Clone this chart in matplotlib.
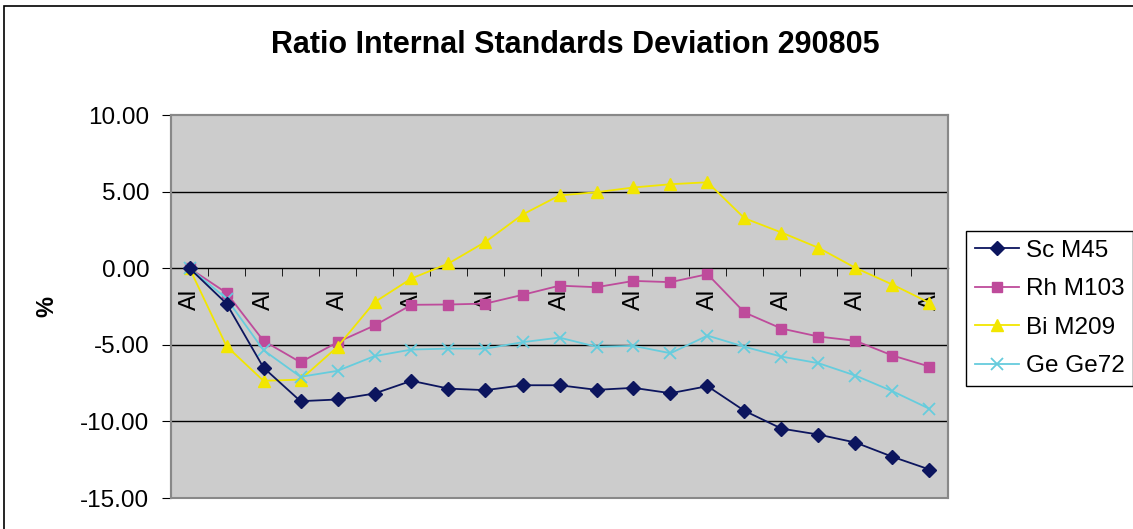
import matplotlib
matplotlib.use("Agg")
import matplotlib.pyplot as plt
from matplotlib.patches import Rectangle

plt.rcParams['font.family'] = ['Liberation Sans', 'DejaVu Sans']

# one "Al" sample per position, 21 runs
categories = ['Al'] * 21
sc_m45 = [0.00, -2.31, -6.49, -8.68, -8.57, -8.18, -7.35, -7.86, -7.96, -7.64, -7.64,
          -7.94, -7.81, -8.16, -7.70, -9.31, -10.47, -10.86, -11.38, -12.31, -13.14]
rh_m103 = [0.00, -1.61, -4.74, -6.14, -4.83, -3.74, -2.39, -2.37, -2.31, -1.74, -1.14,
           -1.24, -0.83, -0.91, -0.39, -2.89, -3.94, -4.46, -4.74, -5.70, -6.42]
bi_m209 = [0.00, -5.09, -7.35, -7.27, -5.13, -2.22, -0.67, 0.31, 1.72, 3.50, 4.75,
           4.96, 5.27, 5.48, 5.61, 3.26, 2.33, 1.33, 0.02, -1.07, -2.26]
ge_ge72 = [0.00, -1.98, -5.35, -7.09, -6.70, -5.74, -5.31, -5.25, -5.25, -4.83, -4.53,
           -5.13, -5.07, -5.55, -4.40, -5.13, -5.77, -6.20, -7.01, -8.03, -9.18]
y_ticks = [10, 5, 0, -5, -10, -15]

W, H = 1133, 529
fig = plt.figure(figsize=(W / 100, H / 100), dpi=100)

# chart frame
fig.patches.append(Rectangle((4 / W, -0.02), 1.05, 1 - 6 / H + 0.02, transform=fig.transFigure,
                             fill=False, edgecolor='black', linewidth=1.2))

ax = fig.add_axes([171 / W, (H - 498) / H, 777 / W, 383 / H])
ax.set_facecolor('#CCCCCC')

x = list(range(len(categories)))
ax.plot(x, sc_m45, color='#0C155E', marker='D', markersize=7, linewidth=1.3, label='Sc M45', zorder=4)
ax.plot(x, rh_m103, color='#BE4B9B', marker='s', markersize=6.5, linewidth=1.3, label='Rh M103', zorder=3)
ax.plot(x, bi_m209, color='#F2E600', marker='^', markersize=9, linewidth=1.3, label='Bi M209', zorder=3)
ax.plot(x, ge_ge72, color='#66CCDD', marker='x', markersize=8, markeredgewidth=1.3, linewidth=1.3,
        label='Ge Ge72', zorder=3)

ax.set_xlim(-0.5, len(categories) - 0.5)
ax.set_ylim(-15, 10)

for v in [5, -5, -10]:
    ax.axhline(v, color='black', linewidth=1, zorder=1)

for s in ['top', 'right', 'left']:
    ax.spines[s].set_color('#888888')
    ax.spines[s].set_linewidth(1.5)
ax.spines['bottom'].set_position(('data', 0))
ax.spines['bottom'].set_color('black')
ax.spines['bottom'].set_linewidth(1)
ax.spines['bottom'].set_zorder(1)
ax.add_patch(Rectangle((0, 0), 1, 1, transform=ax.transAxes, fill=False,
                       edgecolor='#888888', linewidth=1.5, zorder=5, clip_on=False))

ax.set_yticks(y_ticks)
ax.set_yticklabels(['%.2f' % v for v in y_ticks], fontsize=17.5)
ax.tick_params(axis='y', direction='out', length=6.5, color='black', pad=9)

ax.set_xticks(x[::2])
ax.set_xticklabels(categories[::2], rotation=90, fontsize=17)
ax.set_xticks([i - 0.5 for i in range(len(categories) + 1)], minor=True)
ax.tick_params(axis='x', which='major', length=0, pad=15)
ax.tick_params(axis='x', which='minor', direction='out', length=6, color='black')

ax.set_ylabel('%', fontsize=17, fontweight='bold')
ax.yaxis.set_label_coords(-0.145, 0.50)

fig.text(575 / W, 1 - 45 / H, 'Ratio Internal Standards Deviation 290805', ha='center', va='center',
         fontsize=22, fontweight='bold')

leg = fig.legend(loc='upper left', bbox_to_anchor=(966 / W, 1 - 231 / H), fontsize=17.5,
                 fancybox=False, edgecolor='black', framealpha=1, handlelength=1.85,
                 borderpad=0.35, labelspacing=0.68, handletextpad=0.25, borderaxespad=0)
leg.get_frame().set_linewidth(1)

fig.savefig('out.png', dpi=100)
